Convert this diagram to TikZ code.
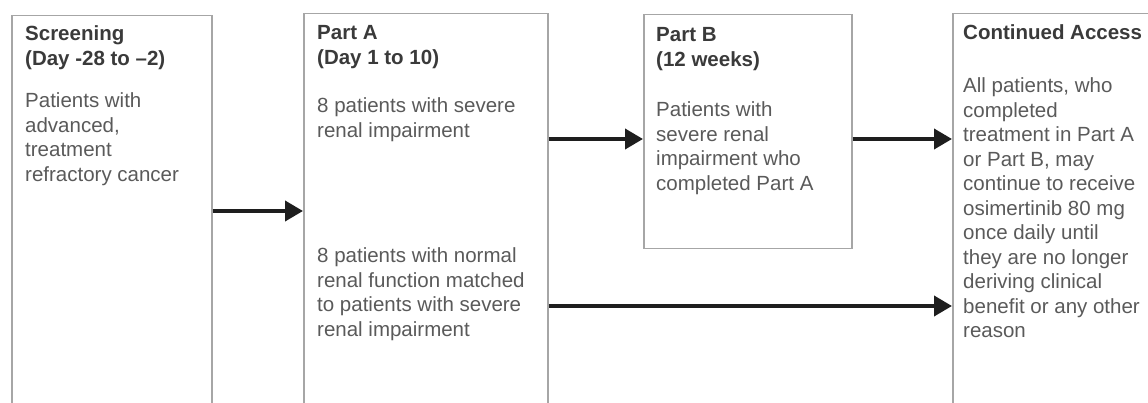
\documentclass[tikz,border=0pt]{standalone}
\usepackage{fontspec}
\setmainfont{Liberation Sans}
\usetikzlibrary{arrows.meta}
\definecolor{boxc}{HTML}{A6A6A6}
\definecolor{headc}{HTML}{3A3A3A}
\definecolor{bodyc}{HTML}{5A5A5A}
\definecolor{arrc}{HTML}{1E1E1E}
\newcommand{\txtlines}[1]{\begin{tabular}[t]{@{}l@{}}#1\end{tabular}}
\begin{document}
\begin{tikzpicture}[x=1pt,y=-1pt,
  stagebox/.style={draw=boxc, line width=1.5pt, anchor=north west, inner sep=0pt, fill=white},
  head/.style={anchor=base west, inner sep=0pt, font=\fontsize{20.5}{24.5}\selectfont\bfseries, text=headc},
  body/.style={anchor=base west, inner sep=0pt, font=\fontsize{20.5}{24.5}\selectfont, text=bodyc},
  flow/.style={draw=arrc, line width=3.8pt, -{Triangle[length=18pt,width=20pt]}}]
\useasboundingbox (0,0) rectangle (1148,403);
\clip (0,0) rectangle (1148,403);
\fill[white] (0,0) rectangle (1148,403);
% boxes
\node[stagebox, minimum width=200pt, minimum height=420pt] (S) at (11,15) {};
\node[stagebox, minimum width=244pt, minimum height=420pt] (A) at (303,13) {};
\node[stagebox, minimum width=208pt, minimum height=234pt] (B) at (643,14) {};
\node[stagebox, minimum width=300pt, minimum height=420pt] (C) at (952,13) {};
% texts
\node[head] (sh) at (25,41) {\txtlines{Screening\\(Day -28 to –2)}};
\node[body] (sb) at (25,108) {\txtlines{Patients with\\advanced,\\treatment\\refractory cancer}};
\node[head] (ah) at (317,40) {\txtlines{Part A\\(Day 1 to 10)}};
\node[body] (ab1) at (317,113) {\txtlines{8 patients with severe\\renal impairment}};
\node[body] (ab2) at (317,263) {\txtlines{8 patients with normal\\renal function matched\\to patients with severe\\renal impairment}};
\node[head] (bh) at (656,42) {\txtlines{Part B\\(12 weeks)}};
\node[body] (bb) at (656,117) {\txtlines{Patients with\\severe renal\\impairment who\\completed Part A}};
\node[head] (ch) at (963,40) {Continued Access};
\node[body] (cb) at (963,93) {\txtlines{All patients, who\\completed\\treatment in Part A\\or Part B, may\\continue to receive\\osimertinib 80 mg\\once daily until\\they are no longer\\deriving clinical\\benefit or any other\\reason}};
% arrow levels
\coordinate (y1) at (0,211);
\coordinate (y2) at (0,139);
\coordinate (y3) at (0,306);
\draw[flow] (S.east |- y1) -- (A.west |- y1);
\draw[flow] (A.east |- y2) -- (B.west |- y2);
\draw[flow] (B.east |- y2) -- (C.west |- y2);
\draw[flow] (A.east |- y3) -- (C.west |- y3);
\end{tikzpicture}
\end{document}
